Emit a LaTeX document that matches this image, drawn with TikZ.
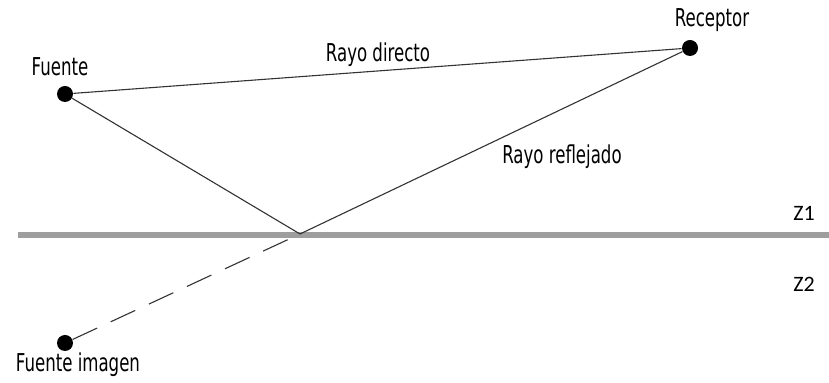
\documentclass[tikz,border=0pt]{standalone}
\usepackage{fontspec}
\setmainfont{Carlito}
\newfontfamily\rayofont[FakeStretch=0.75]{DejaVu Sans Condensed}
\usetikzlibrary{positioning}
\tikzset{
    punto/.style={circle, fill=black, inner sep=0pt, minimum size=8pt}, % Sources and receiver
    etiqueta/.style={font=\rayofont\fontsize{12.3}{14}\selectfont, inner sep=0pt},
    zona/.style={font=\fontsize{11}{13}\selectfont, inner sep=0pt},
    rayo/.style={draw=black!80, line width=0.55pt},
}

\begin{document}
\begin{tikzpicture}[x=0.5pt, y=-0.5pt]
    \useasboundingbox (0,0) rectangle (829,383);

    % --- Ground ---
    \coordinate (sueloA) at (18,235);
    \coordinate (sueloB) at (829,235);
    \draw[black!38, line width=2.6pt] (sueloA) -- (sueloB);
    \node[zona] (z1) at (804,213) {Z1};
    \node[zona] (z2) at (804,284) {Z2};

    % --- Points ---
    \node[punto] (fuente) at (65,94) {};
    \node[punto] (receptor) at (690,48) {};
    \node[punto] (imagen) at (65,343) {};
    \coordinate (refl) at (300,234);

    % --- Labels ---
    \node[etiqueta] (lfuente) at (60,67) {Fuente};
    \node[etiqueta] (lreceptor) at (712,20) {Receptor};
    \node[etiqueta] (limagen) at (78,365) {Fuente imagen};
    \node[etiqueta] (ldirecto) at (378,55) {Rayo directo};
    \node[etiqueta] (lreflejado) at (562,157) {Rayo reflejado};

    % --- Rays ---
    \draw[rayo] (fuente) -- (receptor);
    \draw[rayo] (fuente) -- (refl) -- (receptor);
    \draw[rayo, dash pattern=on 13.5pt off 7.5pt] (imagen) -- (refl);

\end{tikzpicture}
\end{document}
